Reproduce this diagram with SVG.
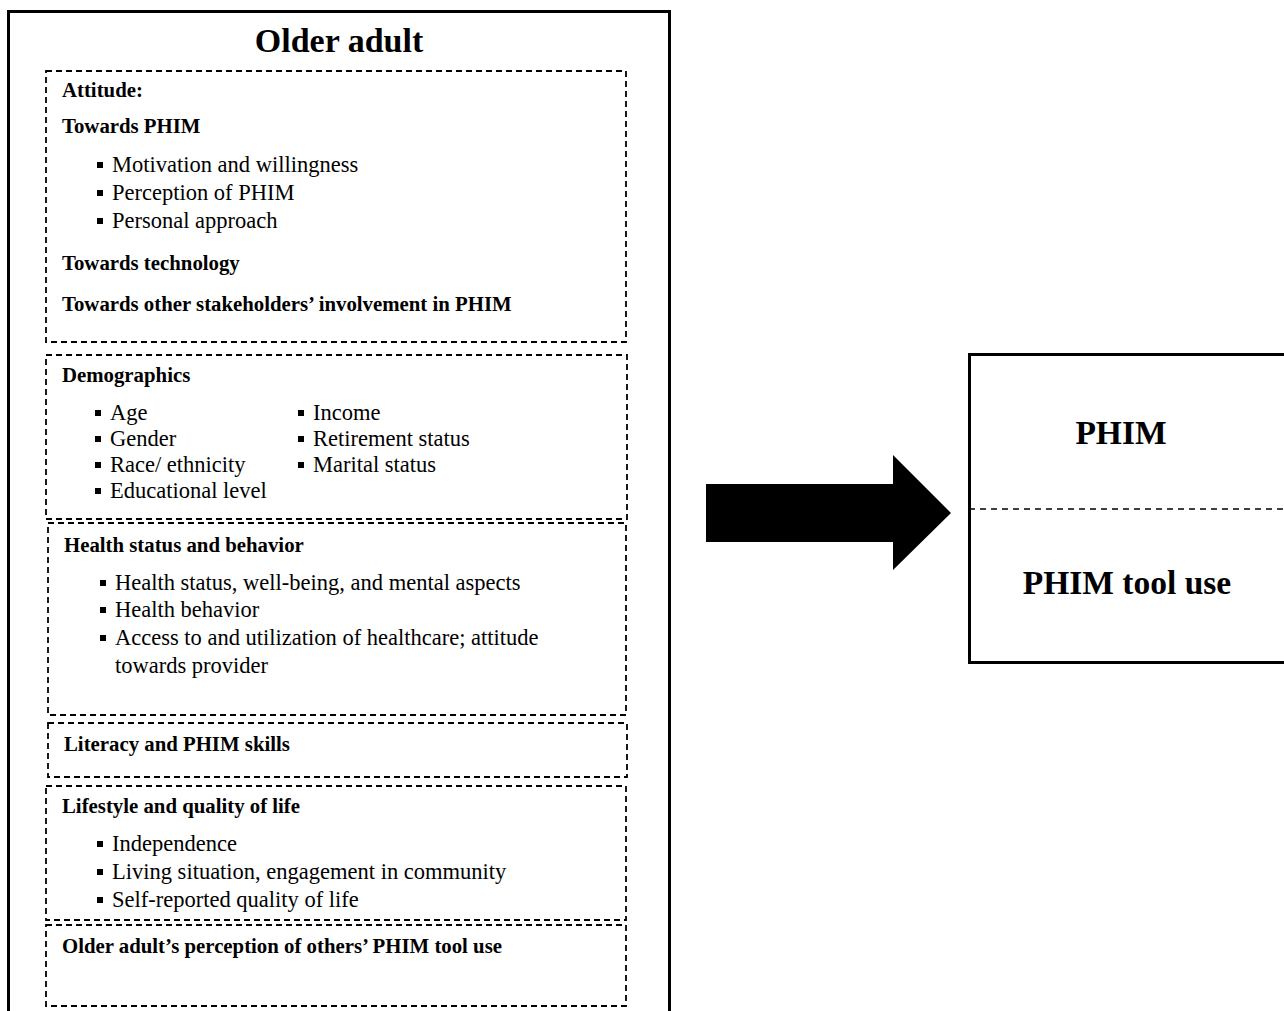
<svg xmlns="http://www.w3.org/2000/svg" width="1284" height="1011" viewBox="0 0 1284 1011">
<style>
.h{font-family:"Liberation Serif","Times New Roman",serif;font-weight:bold;font-size:20.8px;fill:#000}
.t{font-family:"Liberation Serif","Times New Roman",serif;font-size:22.5px;fill:#000}
.big{font-family:"Liberation Serif","Times New Roman",serif;font-weight:bold;font-size:33.5px;fill:#000;text-anchor:middle}
.dash{fill:none;stroke:#000;stroke-width:1.8;stroke-dasharray:6 4}
.solid{fill:#fff;stroke:#000;stroke-width:3}
</style>
<defs>
<rect id="b" x="0" y="-10" width="6" height="6" fill="#000"/>
</defs>
<rect width="1284" height="1011" fill="#fff"/>
<g id="older-adult">
<rect class="solid" x="8.5" y="11.5" width="661" height="1010"/>
<text class="big" x="339" y="52" style="font-size:34px">Older adult</text>
</g>
<g id="attitude">
<rect class="dash" x="46" y="71" width="580" height="271"/>
<text class="h" x="62" y="97">Attitude:</text>
<text class="h" x="62" y="133">Towards PHIM</text>
<use href="#b" x="97" y="172"/><text class="t" x="112" y="172">Motivation and willingness</text>
<use href="#b" x="97" y="200"/><text class="t" x="112" y="200">Perception of PHIM</text>
<use href="#b" x="97" y="228"/><text class="t" x="112" y="228">Personal approach</text>
<text class="h" x="62" y="270">Towards technology</text>
<text class="h" x="62" y="311">Towards other stakeholders’ involvement in PHIM</text>
</g>
<g id="demographics">
<rect class="dash" x="46" y="355" width="581" height="164"/>
<text class="h" x="62" y="382">Demographics</text>
<use href="#b" x="95" y="420"/><text class="t" x="110" y="420">Age</text>
<use href="#b" x="95" y="446"/><text class="t" x="110" y="446">Gender</text>
<use href="#b" x="95" y="472"/><text class="t" x="110" y="472">Race/ ethnicity</text>
<use href="#b" x="95" y="498"/><text class="t" x="110" y="498">Educational level</text>
<use href="#b" x="298" y="420"/><text class="t" x="313" y="420">Income</text>
<use href="#b" x="298" y="446"/><text class="t" x="313" y="446">Retirement status</text>
<use href="#b" x="298" y="472"/><text class="t" x="313" y="472">Marital status</text>
</g>
<g id="health">
<rect class="dash" x="48" y="523" width="578" height="192"/>
<text class="h" x="64" y="552">Health status and behavior</text>
<use href="#b" x="100" y="590"/><text class="t" x="115" y="590">Health status, well-being, and mental aspects</text>
<use href="#b" x="100" y="617"/><text class="t" x="115" y="617">Health behavior</text>
<use href="#b" x="100" y="645"/><text class="t" x="115" y="645">Access to and utilization of healthcare; attitude</text>
<text class="t" x="115" y="673">towards provider</text>
</g>
<g id="literacy">
<rect class="dash" x="48" y="723" width="579" height="54"/>
<text class="h" x="64" y="751">Literacy and PHIM skills</text>
</g>
<g id="lifestyle">
<rect class="dash" x="46" y="786" width="580" height="134"/>
<text class="h" x="62" y="813">Lifestyle and quality of life</text>
<use href="#b" x="97" y="851"/><text class="t" x="112" y="851">Independence</text>
<use href="#b" x="97" y="879"/><text class="t" x="112" y="879">Living situation, engagement in community</text>
<use href="#b" x="97" y="907"/><text class="t" x="112" y="907">Self-reported quality of life</text>
</g>
<g id="perception">
<rect class="dash" x="46" y="925" width="580" height="81"/>
<text class="h" x="62" y="953">Older adult’s perception of others’ PHIM tool use</text>
</g>
<g id="connectors">
<polygon points="706,484 893,484 893,455 951,513 893,570 893,542 706,542" fill="#000"/>
</g>
<g id="phim">
<rect class="solid" x="969.5" y="354.5" width="320" height="308"/>
<line x1="969" y1="509" x2="1284" y2="509" stroke="#000" stroke-width="1.5" stroke-dasharray="6 5"/>
<text class="big" x="1121" y="444">PHIM</text>
<text class="big" x="1127" y="594">PHIM tool use</text>
</g>
</svg>
